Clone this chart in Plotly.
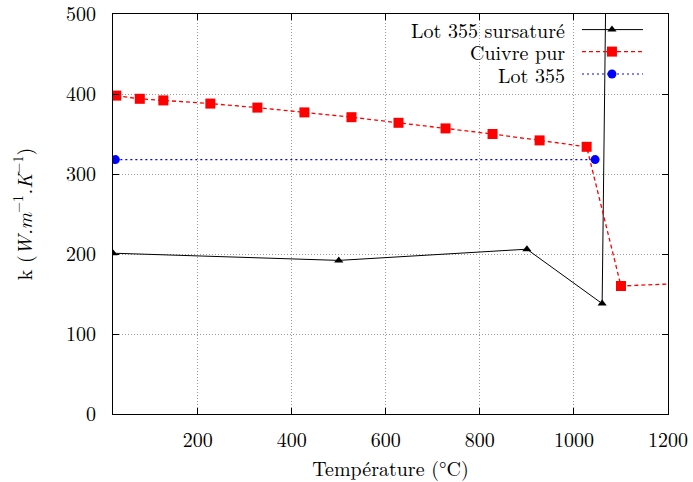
import plotly.graph_objects as go

# Thermal conductivity versus temperature
temp_sursature = [20, 500, 900, 1060, 1080]
k_sursature = [201, 192, 206, 138, 1140]

temp_cuivre = [27, 77, 127, 227, 327, 427, 527, 627, 727, 827, 927, 1027, 1100, 1300]
k_cuivre = [398, 394, 392, 388, 383, 377, 371, 364, 357, 350, 342, 334, 160, 165]

temp_lot355 = [25, 1045]
k_lot355 = [318, 318]

x_ticks = [200, 400, 600, 800, 1000, 1200]
y_ticks = [0, 100, 200, 300, 400, 500]

series_names = ["Lot 355 sursaturé", "Cuivre pur", "Lot 355"]

FONT = "Latin Modern Roman"
FSIZE = 20

sursature_style = dict(line=dict(color="black", width=1),
                       marker=dict(symbol="triangle-up", size=8, color="black"))
cuivre_style = dict(line=dict(color="#ff0000", width=1.3, dash="4px,3px"),
                    marker=dict(symbol="square", size=10, color="#ff0000"))
lot355_style = dict(line=dict(color="#0000ff", width=1.2, dash="2px,3px"),
                    marker=dict(symbol="circle", size=9, color="#0000ff"))
styles = [sursature_style, cuivre_style, lot355_style]

fig = go.Figure()
for xs, ys, st in zip([temp_sursature, temp_cuivre, temp_lot355],
                      [k_sursature, k_cuivre, k_lot355], styles):
    fig.add_trace(go.Scatter(x=xs, y=ys, mode="lines+markers",
                             line=st["line"], marker=st["marker"],
                             showlegend=False, cliponaxis=True))

# Key in the top-right corner: label, then sample line with its marker
key_rows = [0.961, 0.906, 0.850]
for name, st, yk in zip(series_names, styles, key_rows):
    fig.add_trace(go.Scatter(x=[0.845, 0.955], y=[yk, yk], mode="lines",
                             line=st["line"], xaxis="x2", yaxis="y2",
                             showlegend=False, hoverinfo="skip"))
    fig.add_trace(go.Scatter(x=[0.899], y=[yk], mode="markers",
                             marker=st["marker"], xaxis="x2", yaxis="y2",
                             showlegend=False, hoverinfo="skip"))
    fig.add_annotation(x=0.818, y=yk, xref="paper", yref="paper",
                       text=name, showarrow=False, xanchor="right",
                       yanchor="middle", font=dict(family=FONT, size=FSIZE, color="black"))

axis_common = dict(showline=True, linecolor="black", linewidth=1, mirror="ticks",
                   ticks="inside", ticklen=6, tickcolor="black",
                   showgrid=True, gridcolor="#9a9a9a", griddash="1px,2px", gridwidth=1,
                   zeroline=False, automargin=False, ticklabeloverflow="allow",
                   tickfont=dict(family=FONT, size=FSIZE, color="black"))

fig.update_layout(
    width=693, height=482,
    margin=dict(l=113, r=25, t=14, b=68),
    paper_bgcolor="white", plot_bgcolor="white",
    font=dict(family=FONT, size=FSIZE, color="black"),
    xaxis=dict(range=[20, 1200], tickvals=x_ticks, ticklabelstandoff=8,
               title=dict(text="Température (°C)", standoff=10,
                          font=dict(family=FONT, size=FSIZE, color="black")),
               **axis_common),
    yaxis=dict(range=[0, 500], tickvals=y_ticks, ticklabelstandoff=12,
               title=dict(text="k (<i>W.m</i><sup>−1</sup><i>.K</i><sup>−1</sup>)",
                          standoff=28,
                          font=dict(family=FONT, size=FSIZE, color="black")),
               **axis_common),
    xaxis2=dict(range=[0, 1], overlaying="x", visible=False, fixedrange=True),
    yaxis2=dict(range=[0, 1], overlaying="y", visible=False, fixedrange=True),
)

fig.write_html("out.html")
